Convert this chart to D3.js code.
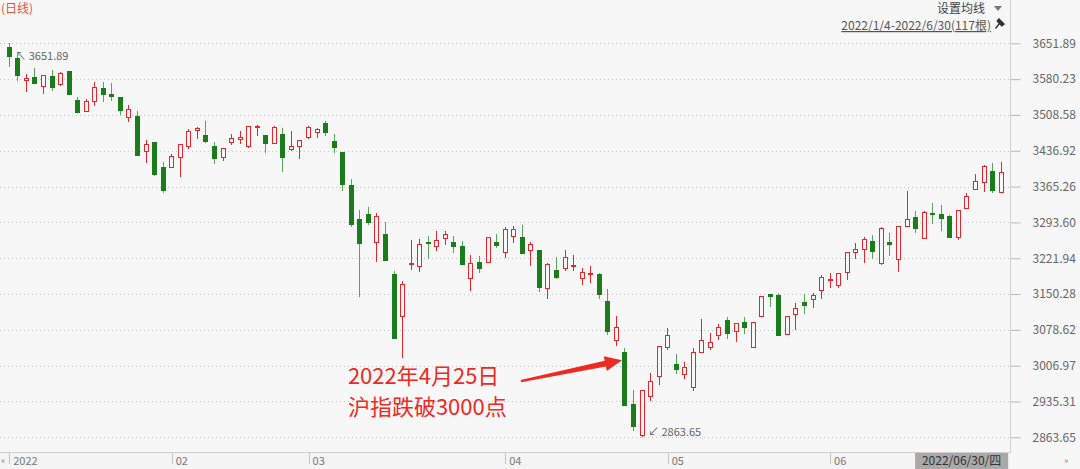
<!DOCTYPE html>
<html><head><meta charset="utf-8">
<script src="https://cdn.jsdelivr.net/npm/d3@7"></script>
<style>
html,body{margin:0;padding:0;background:#f7f7f7;overflow:hidden;}
svg{display:block;font-family:"Noto Sans CJK SC","Noto Sans",sans-serif;}
</style></head><body>
<svg id="chart" width="1080" height="469"></svg>
<script>
// ---- data ----
const dates = [
"2022-01-04","2022-01-05","2022-01-06","2022-01-07","2022-01-10","2022-01-11","2022-01-12","2022-01-13","2022-01-14","2022-01-17",
"2022-01-18","2022-01-19","2022-01-20","2022-01-21","2022-01-24","2022-01-25","2022-01-26","2022-01-27","2022-01-28",
"2022-02-07","2022-02-08","2022-02-09","2022-02-10","2022-02-11","2022-02-14","2022-02-15","2022-02-16","2022-02-17","2022-02-18",
"2022-02-21","2022-02-22","2022-02-23","2022-02-24","2022-02-25","2022-02-28",
"2022-03-01","2022-03-02","2022-03-03","2022-03-04","2022-03-07","2022-03-08","2022-03-09","2022-03-10","2022-03-11","2022-03-14",
"2022-03-15","2022-03-16","2022-03-17","2022-03-18","2022-03-21","2022-03-22","2022-03-23","2022-03-24","2022-03-25","2022-03-28",
"2022-03-29","2022-03-30","2022-03-31",
"2022-04-01","2022-04-06","2022-04-07","2022-04-08","2022-04-11","2022-04-12","2022-04-13","2022-04-14","2022-04-15","2022-04-18",
"2022-04-19","2022-04-20","2022-04-21","2022-04-22","2022-04-25","2022-04-26","2022-04-27","2022-04-28","2022-04-29",
"2022-05-05","2022-05-06","2022-05-09","2022-05-10","2022-05-11","2022-05-12","2022-05-13","2022-05-16","2022-05-17","2022-05-18",
"2022-05-19","2022-05-20","2022-05-23","2022-05-24","2022-05-25","2022-05-26","2022-05-27","2022-05-30","2022-05-31",
"2022-06-01","2022-06-02","2022-06-06","2022-06-07","2022-06-08","2022-06-09","2022-06-10","2022-06-13","2022-06-14","2022-06-15",
"2022-06-16","2022-06-17","2022-06-20","2022-06-21","2022-06-22","2022-06-23","2022-06-24","2022-06-27","2022-06-28","2022-06-29",
"2022-06-30"];
const open = [
3643.9,3623.1,3577.9,3584.5,3565.9,3585.9,3571.1,3595.9,3539.1,3516.5,
3535.9,3562.5,3550.5,3543.5,3503.5,3506.5,3436.5,3453.9,3403.9,3403.9,
3425.1,3446.5,3477.9,3469.1,3447.1,3425.1,3453.9,3459.9,3446.5,3484.5,
3469.1,3451.9,3470.5,3439.9,3446.5,3465.1,3473.9,3491.9,3457.1,3435.1,
3369.1,3300.5,3309.9,3254.5,3269.9,3191.1,3106.5,3209.9,3205.9,3254.5,
3247.1,3263.1,3254.5,3246.5,3182.5,3213.9,3213.9,3253.9,3233.9,3267.1,
3265.1,3237.9,3237.9,3163.1,3198.5,3201.9,3206.5,3182.5,3190.5,3189.9,
3136.5,3057.9,3034.5,2931.1,2868.5,2946.5,2985.9,3043.9,3011.1,2989.9,
2963.9,3033.9,3043.9,3067.9,3099.1,3075.9,3095.1,3043.9,3106.5,3150.5,
3148.5,3069.9,3110.5,3134.5,3139.9,3158.5,3178.5,3167.9,3194.5,3233.9,
3241.1,3257.1,3211.9,3253.9,3221.1,3285.9,3304.5,3263.1,3312.5,3309.9,
3306.5,3265.1,3321.9,3360.5,3374.5,3396.5,3355.1];
const high = [
3651.89,3628.5,3590.5,3601.9,3587.9,3599.1,3593.9,3595.9,3543.9,3541.1,
3574.5,3574.5,3571.9,3543.9,3528.5,3515.9,3458.5,3453.9,3414.5,3429.9,
3449.9,3479.9,3484.5,3496.5,3453.9,3443.1,3471.1,3475.9,3486.5,3488.5,
3469.1,3487.1,3482.5,3476.5,3459.1,3487.1,3481.9,3496.5,3470.5,3435.1,
3380.5,3318.5,3323.9,3311.9,3294.5,3196.5,3176.5,3257.9,3259.9,3265.9,
3277.1,3277.1,3265.9,3256.5,3228.5,3225.9,3263.9,3269.9,3285.1,3287.1,
3288.5,3255.1,3237.9,3211.9,3223.9,3238.5,3228.5,3201.5,3206.5,3191.9,
3159.9,3105.9,3042.5,2957.9,2957.9,2991.9,3046.5,3081.9,3030.5,3015.1,
3043.1,3099.9,3071.9,3090.5,3103.9,3093.1,3105.1,3095.1,3145.9,3150.5,
3151.9,3106.5,3133.1,3151.1,3151.9,3188.5,3193.1,3193.1,3234.5,3252.5,
3265.1,3267.9,3285.1,3271.9,3286.5,3355.9,3316.5,3316.5,3331.9,3327.9,
3307.9,3317.9,3353.1,3390.5,3408.5,3411.9,3413.9];
const low = [
3603.9,3577.1,3553.9,3569.9,3549.9,3557.1,3567.1,3549.9,3513.9,3513.9,
3525.9,3535.1,3536.5,3508.5,3494.5,3428.5,3413.1,3387.1,3351.9,3403.9,
3385.1,3439.9,3459.9,3453.1,3410.5,3416.5,3448.5,3449.9,3441.9,3467.1,
3431.9,3451.1,3395.1,3435.9,3420.5,3460.5,3461.9,3467.1,3431.9,3355.9,
3283.5,3145.1,3287.9,3215.1,3219.1,3063.1,3021.9,3199.1,3193.9,3221.1,
3237.1,3248.5,3233.1,3209.9,3157.1,3193.1,3213.9,3241.9,3223.1,3251.9,
3233.1,3206.5,3155.1,3139.9,3180.5,3197.1,3195.9,3168.5,3172.5,3139.9,
3069.1,3047.1,2928.5,2877.1,2863.65,2936.5,2967.9,3038.5,2990.5,2981.1,
2957.1,3033.9,3038.5,3057.9,3061.1,3055.1,3069.9,3043.1,3105.1,3125.1,
3069.1,3069.1,3078.5,3110.5,3121.9,3139.9,3161.9,3161.9,3178.5,3219.9,
3213.1,3220.5,3207.9,3227.1,3194.5,3285.9,3273.1,3261.1,3289.9,3276.5,
3261.9,3258.5,3321.1,3360.5,3354.5,3353.1,3355.1];
const close = [
3625.9,3588.5,3583.1,3573.1,3587.9,3563.9,3591.9,3549.9,3514.5,3537.1,
3563.9,3551.1,3547.1,3518.5,3519.5,3428.5,3450.5,3390.5,3358.5,3425.9,
3449.9,3477.1,3481.9,3457.1,3423.1,3443.1,3463.1,3465.1,3486.5,3487.1,
3451.9,3485.1,3424.5,3447.1,3459.1,3483.9,3479.9,3475.1,3443.9,3370.5,
3289.9,3252.5,3293.9,3306.5,3219.1,3063.1,3169.9,3212.5,3249.9,3251.9,
3257.9,3269.9,3247.1,3209.9,3212.5,3201.9,3263.9,3249.1,3280.5,3281.1,
3233.1,3249.9,3163.9,3210.5,3185.1,3223.9,3209.1,3193.5,3193.1,3149.9,
3077.1,3085.1,2928.5,2887.1,2957.9,2975.9,3046.5,3067.9,3001.1,3003.9,
3034.5,3058.5,3053.9,3083.9,3071.9,3093.1,3085.1,3095.1,3145.9,3145.9,
3069.1,3106.5,3121.9,3129.1,3147.9,3185.1,3181.1,3193.1,3234.5,3239.9,
3261.1,3237.1,3283.1,3251.1,3286.5,3301.1,3281.9,3313.9,3309.5,3301.5,
3265.1,3317.9,3347.1,3375.9,3406.5,3358.5,3393.9];
const yTicks = [3651.89,3580.23,3508.58,3436.92,3365.26,3293.60,3221.94,3150.28,3078.62,3006.97,2935.31,2863.65];
const monthStarts = ["2022-01-04","2022-02-07","2022-03-01","2022-04-01","2022-05-05","2022-06-01"];
const monthLabels = ["2022","02","03","04","05","06"];
const titleLeft = "(日线)";
const maLabel = "设置均线";
const rangeLabel = "2022/1/4-2022/6/30(117根)";
const lastDateLabel = "2022/06/30/四";
const noteLines = ["2022年4月25日","沪指跌破3000点"];
const noteDate = "2022-04-25";
const noteLevel = 3018;

// ---- layout ----
const W = 1080, H = 469;
const plotRight = 1010, axisY = 452;
const RED = "#e8262b", GREEN = "#1b7c1b", GREEN_WICK = "#5aa35a", BG = "#f7f7f7";

const svg = d3.select("#chart");
svg.append("rect").attr("width", W).attr("height", H).attr("fill", BG);
svg.append("rect").attr("x",0).attr("y",axisY).attr("width",plotRight).attr("height",H-axisY).attr("fill","#f4f4f4");

const x = d3.scaleBand().domain(dates).range([5, 1005.4]).paddingInner(0).paddingOuter(0);
const y = d3.scaleLinear().domain([2863.65, 3651.89]).range([437.3, 43.3]);
const xc = d => x(d) + x.bandwidth() / 2;

// grid
svg.append("g").selectAll("line").data(yTicks).join("line")
  .attr("x1", 0).attr("x2", plotRight)
  .attr("y1", d => Math.round(y(d)) + 0.5).attr("y2", d => Math.round(y(d)) + 0.5)
  .attr("stroke", "#c4c4c4").attr("stroke-dasharray", "1,3");

// right axis
const yAxis = d3.axisRight(y).tickValues(yTicks).tickSize(10).tickSizeOuter(0).tickPadding(12)
  .tickFormat(d => d.toFixed(2));
const gy = svg.append("g").attr("transform", `translate(${plotRight + 0.5},0)`).call(yAxis);
gy.select(".domain").remove();
gy.selectAll(".tick line").attr("stroke", "#b8b8b8");
gy.selectAll(".tick text").attr("fill", "#666").attr("font-size", 12)
  .attr("font-family", '"Noto Sans CJK SC","Noto Sans",sans-serif');
svg.append("line").attr("x1", plotRight + 0.5).attr("x2", plotRight + 0.5).attr("y1", 0).attr("y2", axisY)
  .attr("stroke", "#cfcfcf");

// bottom axis
svg.append("line").attr("x1", 0).attr("x2", plotRight + 0.5).attr("y1", axisY + 0.5).attr("y2", axisY + 0.5)
  .attr("stroke", "#cfcfcf");
const gx = svg.append("g");
gx.selectAll("line").data(monthStarts).join("line")
  .attr("x1", d => Math.round(xc(d)) + 0.5).attr("x2", d => Math.round(xc(d)) + 0.5)
  .attr("y1", axisY).attr("y2", axisY + 12).attr("stroke", "#c4c4c4");
gx.selectAll("text").data(monthStarts).join("text")
  .attr("x", d => xc(d) + 4).attr("y", 465)
  .attr("font-size", 11).attr("fill", "#777")
  .text((d, i) => monthLabels[i]);
svg.append("text").attr("x", 1).attr("y", 464).attr("font-size", 9).attr("fill", "#888").text("«");
svg.append("text").attr("x", 1064).attr("y", 464).attr("font-size", 9).attr("fill", "#888").text("»");

// last-date box
const lastX = xc(dates[dates.length - 1]);
svg.append("rect").attr("x", lastX - 86).attr("y", axisY + 1).attr("width", 93).attr("height", H - axisY - 1)
  .attr("fill", "#a9a9a9");
svg.append("text").attr("x", lastX - 39.5).attr("y", 465).attr("text-anchor", "middle")
  .attr("font-size", 12).attr("fill", "#333").text(lastDateLabel);

// candles
const idx = d3.range(dates.length);
const bodyW = 4;
const cg = svg.append("g");
idx.forEach(i => {
  const up = close[i] >= open[i];
  const cx = Math.round(xc(dates[i]) - 2.5) + 2.5;
  const top = Math.round(y(Math.max(open[i], close[i])));
  let bot = Math.round(y(Math.min(open[i], close[i])));
  if (bot - top < 1) bot = top + 1;
  const hy = Math.round(y(high[i])), ly = Math.round(y(low[i]));
  const wc = up ? RED : GREEN_WICK;
  if (hy < top) cg.append("line").attr("x1", cx).attr("x2", cx).attr("y1", hy).attr("y2", top).attr("stroke", wc);
  if (ly > bot) cg.append("line").attr("x1", cx).attr("x2", cx).attr("y1", bot).attr("y2", ly).attr("stroke", wc);
  cg.append("rect").attr("x", cx - 2).attr("y", top + 0.5).attr("width", bodyW).attr("height", Math.max(bot - top, 1))
    .attr("fill", up ? BG : GREEN).attr("stroke", up ? RED : GREEN).attr("stroke-width", 1);
});

// high / low markers
const iMax = d3.maxIndex(high), iMin = d3.minIndex(low);
svg.append("text").attr("x", xc(dates[iMax]) + 6).attr("y", y(high[iMax]) + 17)
  .attr("font-size", 11).attr("fill", "#666").text("↖ " + high[iMax].toFixed(2));
svg.append("text").attr("x", xc(dates[iMin]) + 6).attr("y", y(low[iMin]) - 1)
  .attr("font-size", 11).attr("fill", "#666").text("↙ " + low[iMin].toFixed(2));

// annotation arrow
const tip = [xc(noteDate) - 3, y(noteLevel)];
const tail = [tip[0] - 101, tip[1] + 21];
const dx = tip[0] - tail[0], dy = tip[1] - tail[1], len = Math.hypot(dx, dy);
const ux = dx / len, uy = dy / len, nx = -uy, ny = ux;
const headL = 17, headW = 7.5, w0 = 1.2, w1 = 3;
const base = [tip[0] - ux * headL, tip[1] - uy * headL];
const pts = [
  [tail[0] + nx * w0, tail[1] + ny * w0],
  [base[0] + nx * w1, base[1] + ny * w1],
  [base[0] + nx * headW, base[1] + ny * headW],
  tip,
  [base[0] - nx * headW, base[1] - ny * headW],
  [base[0] - nx * w1, base[1] - ny * w1],
  [tail[0] - nx * w0, tail[1] - ny * w0]
];
svg.append("path").attr("d", d3.line()(pts) + "Z").attr("fill", "#ee2a24");
svg.append("g").selectAll("text").data(noteLines).join("text")
  .attr("x", tail[0] - 173).attr("y", (d, i) => tail[1] + 3 + i * 31)
  .attr("font-size", 22).attr("fill", "#ee2a24").text(d => d);

// header
svg.append("text").attr("x", 1).attr("y", 13).attr("font-size", 12).attr("fill", "#e4572e").text(titleLeft);
svg.append("text").attr("x", 985).attr("y", 13).attr("text-anchor", "end").attr("font-size", 12).attr("fill", "#444").text(maLabel);
svg.append("path").attr("d", "M994,6 L1002,6 L998,11 Z").attr("fill", "#777");
svg.append("text").attr("x", 991).attr("y", 30).attr("text-anchor", "end").attr("font-size", 12).attr("fill", "#555")
  .attr("text-decoration", "underline").text(rangeLabel);
// pin icon
svg.append("path").attr("d", "M997,20 L1003,26 M999,19 L1004,24 L1001.5,25.5 L997.5,21.5 Z M999,24 L995.5,28.5")
  .attr("stroke", "#333").attr("stroke-width", 1.4).attr("fill", "#333");
</script>
</body></html>
